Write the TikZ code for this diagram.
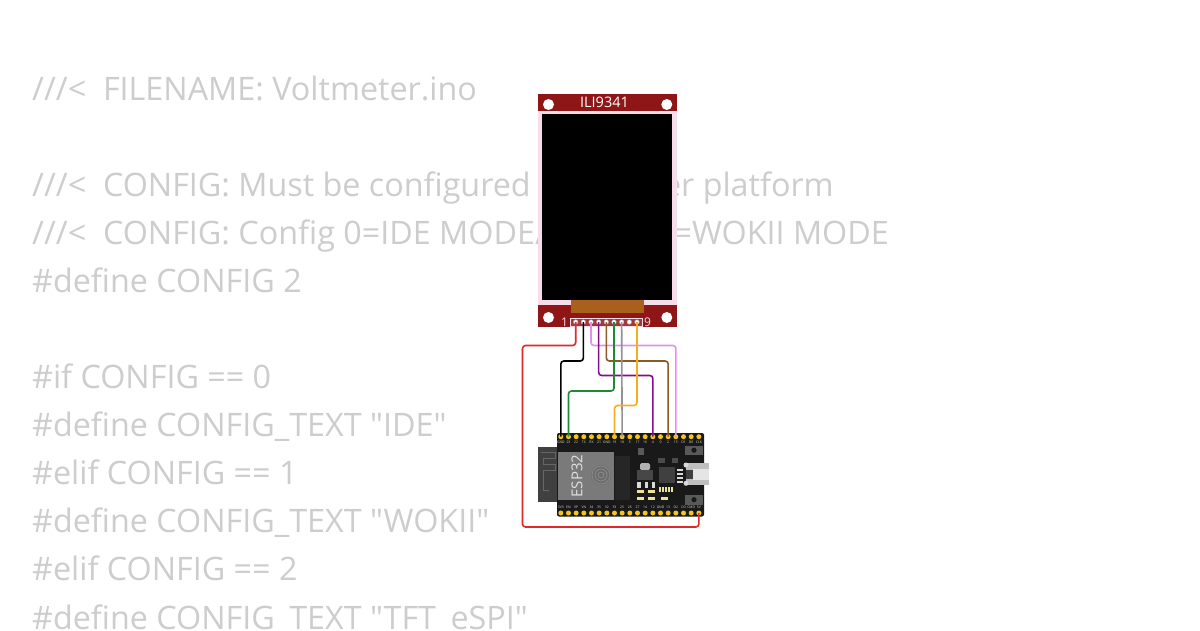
\documentclass[tikz,border=0pt]{standalone}
\usepackage{fontspec}
\setmainfont{Open Sans}
\newfontfamily\codefont{Open Sans}
\usetikzlibrary{positioning}
\definecolor{codegray}{HTML}{CDCDCD}
\definecolor{pcbred}{HTML}{8F1616}
\definecolor{pcbpink}{HTML}{F6DDE9}
\definecolor{flexbrown}{HTML}{A8601C}
\definecolor{pinyellow}{HTML}{F5C518}
\definecolor{partyellow}{HTML}{EFE39A}
\definecolor{wirered}{HTML}{E02A2A}
\definecolor{wiregreen}{HTML}{1E8A32}
\definecolor{wirepink}{HTML}{E090F0}
\definecolor{wirepurple}{HTML}{80108A}
\definecolor{wirebrown}{HTML}{8B5A24}
\definecolor{wireorange}{HTML}{F5AE1E}
\begin{document}
\begin{tikzpicture}[
    x=1pt, y=-1pt,
    % Styles
    codeline/.style={% For the code behind the circuit
        anchor=base west,
        inner sep=0pt,
        text=codegray,
        font=\fontsize{32.3}{32.3}\selectfont\codefont,
        },
    hole/.style={% Mounting holes of the display
        circle,
        fill=white,
        minimum size=11pt,
        inner sep=0pt,
        },
    dpin/.style={% Pins of the display header
        circle,
        draw=gray!70,
        line width=.4pt,
        fill=white,
        minimum size=4.6pt,
        inner sep=0pt,
        },
    bpin/.style={% Pins of the board
        circle,
        fill=pinyellow,
        minimum size=5pt,
        inner sep=0pt,
        },
    silk/.style={% Tiny board labels
        text=white!85!black,
        inner sep=0pt,
        font=\fontsize{3.4}{4}\selectfont,
        },
    usbhole/.style={% Corners of the USB socket
        circle,
        fill=black!15,
        minimum size=5pt,
        inner sep=0pt,
        },
    wire/.style={% Arrows with rounded corners
        rounded corners=3pt,
        line width=1.6pt,
        },
    ]
\useasboundingbox (0,0) rectangle (1200,630);
\clip (0,0) rectangle (1200,630);
\fill[white] (0,0) rectangle (1200,630);

    % Draw the code named line#
    \node [codeline] (line1) at (32,100) {///<\ \ FILENAME: Voltmeter.ino};
    \node [codeline] (line2) at (32,196) {///<\ \ CONFIG: Must be configured};
    \node [codeline, anchor=base east] (line2b) at (834,196) {er platform};
    \node [codeline] (line3) at (32,244) {///<\ \ CONFIG: Config 0=IDE MODE/};
    \node [codeline, anchor=base east] (line3b) at (889,244) {=WOKII MODE};
    \node [codeline] (line4) at (32,292) {\#define CONFIG 2};
    \node [codeline] (line5) at (32,388) {\#if CONFIG == 0};
    \node [codeline] (line6) at (32,436) {\#define CONFIG\_TEXT "IDE"};
    \node [codeline] (line7) at (32,484) {\#elif CONFIG == 1};
    \node [codeline] (line8) at (32,532) {\#define CONFIG\_TEXT "WOKII"};
    \node [codeline] (line9) at (32,580) {\#elif CONFIG == 2};
    \node [codeline] (line10) at (32,629) {\#define CONFIG\_TEXT "TFT\_eSPI"};

    % Draw the display
    \fill [pcbpink] (538,110) rectangle (677,306);
    \fill [pcbred] (538,94) rectangle (677,110.5);
    \fill [pcbred] (538,305) rectangle (677,327);
    \fill [pcbpink] (538,300) rectangle (571,305);
    \fill [pcbpink] (644,300) rectangle (677,305);
    \fill [black] (542.3,114) rectangle (672.3,300);
    \fill [flexbrown] (571,300) rectangle (644.3,313);
    \node [hole] (hole1) at (548.5,104.5) {};
    \node [hole] (hole2) at (666.8,104.5) {};
    \node [hole] (hole3) at (548.5,317.5) {};
    \node [hole] (hole4) at (666.8,317.5) {};
    \node [text=white, inner sep=0pt, font=\fontsize{14.5}{14.5}\selectfont] (title) at (604.5,102.5) {ILI9341};

    % Draw the header, pins named dp#
    \node [draw=pcbpink, line width=.8pt, fill=pcbred!85!white, minimum width=72pt, minimum height=8pt, inner sep=0pt] (header) at (606.2,322) {};
    \node [text=pcbpink, inner sep=0pt, font=\fontsize{12}{12}\selectfont] (one) at (564.5,322) {1};
    \node [text=pcbpink, inner sep=0pt, font=\fontsize{12}{12}\selectfont] (nine) at (647.5,322) {9};
    \foreach \i in {1,...,9} {
        \node [dpin] (dp\i) at ({575.7+(\i-1)*7.66},322) {};
    }

    % Draw the board
    \fill [black!75] (537.7,447) rectangle (558,502);
    \draw [black!60, line width=1pt] (541,452) -- (555,452) -- (555,458) -- (543,458) -- (543,464) -- (555,464) -- (555,470) -- (543,470) -- (543,490) -- (549,490);
    \fill [black!90, rounded corners=2pt] (557,433) rectangle (704,516.5);
    \fill [black!52] (558,451.7) rectangle (614,500);
    \node [text=white!88!black, rotate=90, inner sep=0pt, font=\fontsize{15}{15}\selectfont] (esp) at (577,476) {ESP32};
    \fill [black!58] (601,475) circle (10);
    \foreach \r in {3,6,9} {
        \draw [black!47, line width=1pt] (601,475) circle (\r);
    }

    % Draw the small parts on the board
    \fill [black!85] (615,456) rectangle (630,500);
    \fill [black!65] (638,448) rectangle (644,455);
    \fill [black!30, rounded corners=1.5pt] (640,463) rectangle (650,470);
    \fill [black!72] (637,470) rectangle (653,480);
    \fill [black!75] (659,467) rectangle (675,483);
    \fill [black!70] (658,458) rectangle (665,463);
    \fill [black!70] (672,458) rectangle (678,463);
    \foreach \x in {637,644.5,651.5} {
        \fill [black!15] (\x,481.7) rectangle ++(3.5,6);
    }
    \foreach \x in {637,648} {
        \fill [partyellow] (\x,490) rectangle ++(7,3);
        \fill [partyellow] (\x,497) rectangle ++(7,3);
    }
    \fill [partyellow] (661,497) rectangle (668,500);
    \foreach \x in {659,662,665,668,671} {
        \fill [partyellow] (\x,487) rectangle ++(2,5);
    }
    \foreach \y in {469,473,477,481} {
        \fill [white!85!black] (677,\y) rectangle ++(6,1.5);
    }

    % Draw the buttons and the USB socket
    \fill [black!65] (685,445.5) rectangle (703,455);
    \fill [black!90] (694,450.2) circle (2.6);
    \fill [black!65] (685,495) rectangle (703,504.5);
    \fill [black!90] (694,499.7) circle (2.6);
    \fill [black!25] (686,463) rectangle (708.7,485);
    \fill [black!10] (693,468.5) rectangle (708.7,480);
    \fill [black!75] (685.5,470) rectangle (692.5,478.5);
    \node [usbhole] (usb1) at (686,465) {};
    \node [usbhole] (usb2) at (686,483.3) {};

    % Draw the pins named tp# and bp#, with the labels
    \foreach \i/\t/\b in {0/GND/3V3,1/23/EN,2/22/VP,3/TX/VN,4/RX/34,5/21/35,6/GND/32,7/19/33,8/18/25,9/5/26,
                          10/17/27,11/16/14,12/4/12,13/0/GND,14/2/13,15/15/D2,16/D1/D3,17/D0/CMD,18/CLK/5V} {
        \node [bpin] (tp\i) at ({560.8+\i*7.67},436.7) {};
        \node [bpin] (bp\i) at ({560.8+\i*7.67},513) {};
        \node [silk] (tl\i) at ({560.8+\i*7.67},441.8) {\t};
        \node [silk] (bl\i) at ({560.8+\i*7.67},507.5) {\b};
    }

    % Drawing wires
    \coordinate (rbl) at (522.5,527);
    \draw [wire, wirered] (dp1.center) -- ++(0,23.5) -| (rbl) -| (bp18.center);
    \draw [wire, black] (dp2.center) -- ++(0,39) -| (tp0.center);
    \draw [wire, wirepink] (dp3.center) -- ++(0,23.5) -| (tp15.center);
    \draw [wire, wirepurple] (dp4.center) -- ++(0,53.5) -| (tp12.center);
    \draw [wire, wirebrown] (dp5.center) -- ++(0,39) -| (tp14.center);
    \draw [wire, wiregreen] (dp6.center) -- ++(0,69) -| (tp1.center);
    \draw [wire, gray!85] (dp7.center) -- (tp8.center);
    \draw [wire, wireorange] (dp9.center) -- ++(0,83.5) -| (tp7.center);

\end{tikzpicture}
\end{document}
